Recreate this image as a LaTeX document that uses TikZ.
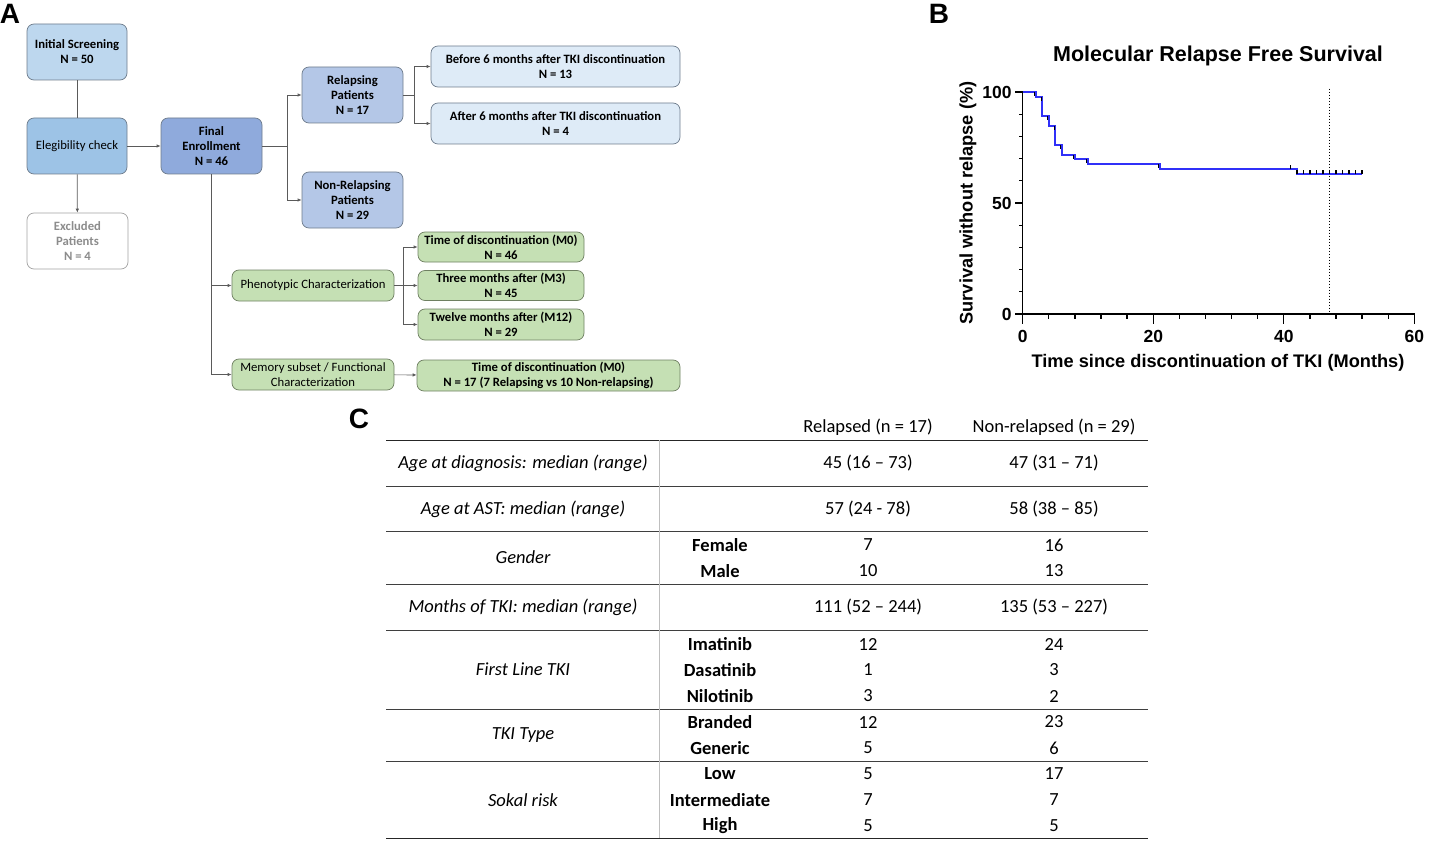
\documentclass[tikz,border=0pt]{standalone}
\usepackage{fontspec}
\setmainfont{Carlito}
\newfontfamily\arialfont{Liberation Sans}
\usetikzlibrary{arrows.meta}

\definecolor{boxline}{HTML}{6E7C8C}
\definecolor{greenline}{HTML}{6F8062}
\definecolor{connline}{HTML}{5A5A5A}
\definecolor{screenblue}{HTML}{BDD7EE}
\definecolor{checkblue}{HTML}{9DC3E6}
\definecolor{finalblue}{HTML}{8FAADC}
\definecolor{groupblue}{HTML}{B4C7E7}
\definecolor{paleblue}{HTML}{DEEBF7}
\definecolor{phenogreen}{HTML}{C5E0B4}
\definecolor{exclgray}{HTML}{8C8C8C}
\definecolor{kmblue}{HTML}{3030F8}
\definecolor{rulegray}{HTML}{3F3F3F}

\begin{document}
\begin{tikzpicture}[x=1pt,y=-1pt,
	flowbox/.style={draw=boxline, line width=0.7pt, rounded corners=7pt, align=center,
		inner sep=0pt, font=\fontsize{12.7}{15}\selectfont\bfseries},
	greenbox/.style={flowbox, draw=greenline, fill=phenogreen},
	conn/.style={draw=connline, line width=0.7pt},
	arr/.style={conn, -{Latex[length=4pt,width=3.5pt]}},
	kmline/.style={kmblue, line width=2pt},
	tick/.style={black, line width=1.3pt},
	tabrule/.style={rulegray, line width=0.9pt},
	cell/.style={inner sep=0pt, font=\fontsize{18.5}{20}\selectfont},
	panel/.style={inner sep=0pt, font=\arialfont\bfseries\fontsize{28}{30}\selectfont}]

	%--- Rahmen ---
	\useasboundingbox (0,0) rectangle (1429,845);

	%--- Panel-Buchstaben ---
	\node[panel] (labA) at (10,14) {A};
	\node[panel] (labB) at (939,14) {B};
	\node[panel] (labC) at (359,419) {C};

	%--- A: Flussdiagramm ---
	\node[flowbox, fill=screenblue, minimum width=100pt, minimum height=56pt] (init) at (77,52) {Initial Screening\\N = 50};
	\node[flowbox, fill=checkblue, minimum width=100pt, minimum height=56pt, font=\fontsize{12.7}{15}\selectfont] (elig) at (77,146) {Elegibility check};
	\node[flowbox, draw=exclgray!80, fill=white, text=exclgray, minimum width=101pt, minimum height=56pt] (excl) at (77.5,241) {Excluded\\Patients\\N = 4};
	\node[flowbox, fill=finalblue, minimum width=101pt, minimum height=56pt] (final) at (211.5,146) {Final\\Enrollment\\N = 46};
	\node[flowbox, fill=groupblue, minimum width=101pt, minimum height=56pt] (relap) at (352.5,95) {Relapsing\\Patients\\N = 17};
	\node[flowbox, fill=groupblue, minimum width=101pt, minimum height=56pt] (nonrel) at (352.5,200) {Non-Relapsing\\Patients\\N = 29};
	\node[flowbox, fill=paleblue, minimum width=249pt, minimum height=41pt] (before) at (555.5,66.5) {Before 6 months after TKI discontinuation\\N = 13};
	\node[flowbox, fill=paleblue, minimum width=249pt, minimum height=41pt] (after) at (555.5,123.5) {After 6 months after TKI discontinuation\\N = 4};

	\node[greenbox, minimum width=162pt, minimum height=31pt, font=\fontsize{12.7}{15}\selectfont] (phen) at (313,285.5) {Phenotypic Characterization};
	\node[greenbox, minimum width=162pt, minimum height=31pt, font=\fontsize{12.7}{15}\selectfont] (mem) at (313,374.5) {Memory subset / Functional\\Characterization};
	\node[greenbox, minimum width=166pt, minimum height=30pt] (mzero) at (501,247) {Time of discontinuation (M0)\\N = 46};
	\node[greenbox, minimum width=166pt, minimum height=30pt] (mthree) at (501,285.5) {Three months after (M3)\\N = 45};
	\node[greenbox, minimum width=166pt, minimum height=31pt] (mtwelve) at (501,324.5) {Twelve months after (M12)\\N = 29};
	\node[greenbox, minimum width=263pt, minimum height=31pt] (mzerob) at (548.5,375.5) {Time of discontinuation (M0)\\N = 17 (7 Relapsing vs 10 Non-relapsing)};

	%--- Verbindungen ---
	\coordinate (fsplit) at (287,146);
	\coordinate (rsplit) at (414,95);
	\coordinate (psplit) at (403,285.5);
	\draw[conn] (init) -- (elig);
	\draw[arr] (elig) -- (excl);
	\draw[arr] (elig) -- (final);
	\draw[conn] (final) -- (fsplit);
	\draw[arr] (fsplit) |- (relap);
	\draw[arr] (fsplit) |- (nonrel);
	\draw[conn] (relap) -- (rsplit);
	\draw[arr] (rsplit) |- (before);
	\draw[arr] (rsplit) |- (after);
	\draw[conn] (final.south) -- (final.south |- mem.west);
	\draw[arr] (final.south |- phen.west) -- (phen);
	\draw[arr] (final.south |- mem.west) -- (mem);
	\draw[conn] (phen) -- (psplit);
	\draw[arr] (psplit) |- (mzero);
	\draw[arr] (psplit) -- (mthree);
	\draw[arr] (psplit) |- (mtwelve);
	\draw[arr] (mem) -- (mzerob);

	%--- B: Kaplan-Meier ---
	\node[font=\arialfont\bfseries\fontsize{21.5}{24}\selectfont] (kmtitle) at (1218,56) {Molecular Relapse Free Survival};
	\node[font=\arialfont\bfseries\fontsize{18.2}{20}\selectfont, rotate=90] (kmylab) at (968,203) {Survival without relapse (\%)};
	\node[font=\arialfont\bfseries\fontsize{18.2}{20}\selectfont] (kmxlab) at (1218,363) {Time since discontinuation of TKI (Months)};

	\begin{scope}[shift={(1022.7,314)}, x=6.527pt, y=2.22pt]
		% Achsen
		\draw[tick, line cap=rect] (0,100) -- (0,0) -- (60,0);
		\foreach \t in {4,8,...,56} {
			\draw[tick] (\t,0) -- ++(0pt,-5pt);
		}
		\foreach \t in {0,20,40,60} {
			\draw[tick] (\t,0) -- ++(0pt,-10pt);
			\node[anchor=north, inner sep=0pt, font=\arialfont\bfseries\fontsize{17.5}{19}\selectfont] (xt\t) at ([yshift=-16pt]\t,0) {\t};
		}
		\foreach \s in {10,20,...,90} {
			\draw[tick] (0,\s) -- ++(-4pt,0pt);
		}
		\foreach \s in {0,50,100} {
			\draw[tick] (0,\s) -- ++(-8pt,0pt);
			\node[anchor=east, inner sep=0pt, font=\arialfont\bfseries\fontsize{17.5}{19}\selectfont] (yt\s) at ([xshift=-11pt]0,\s) {\s};
		}
		% Stichtag
		\draw[black, line width=0.8pt, dash pattern=on 1.5pt off 1.5pt] (47,101.5) -- (47,0);
		% Kurve
		\draw[kmline] (0,100) -| (2,97.8) -| (3,89.1) -| (4,84.8) -| (5,76.1) -| (6,71.7)
			-| (8,69.6) -| (10,67.4) -| (21,65.2) -| (42,63.0) -- (52,63.0);
		\foreach \t/\s in {2/100,3/97.8,4/89.1,5/84.8,6/76.1,8/71.7,10/69.6,21/67.4} {
			\draw[tick, line width=1.1pt] ([xshift=-1.2pt]\t,\s) -- ++(0pt,-4pt);
		}
		% zensiert
		\draw[tick] (41,65.2) -- ++(0pt,4pt);
		\foreach \t in {42,...,52} {
			\draw[tick] (\t,63.0) -- ++(0pt,4pt);
		}
	\end{scope}

	%--- C: Tabelle ---
	\node[cell] (hrel) at (868,427) {Relapsed (n = 17)};
	\node[cell] (hnon) at (1054,427) {Non-relapsed (n = 29)};
	\draw[black!85, line width=1pt] (386,440) -- (1148,440);
	\foreach \y in {486,531,584,630,709,761} {
		\draw[tabrule] (386,\y) -- (1148,\y);
	}
	\draw[black!85, line width=1pt] (386,838) -- (1148,838);
	\draw[black!25, line width=0.6pt] (659,440) -- (659,838);

	\foreach \y/\lab in {463/Age at diagnosis: median (range), 509/Age at AST: median (range),
		557/Gender, 607/Months of TKI: median (range), 669/First Line TKI, 735/TKI Type, 800/Sokal risk} {
		\node[cell, font=\fontsize{18.5}{20}\selectfont\itshape] (row\y) at (523,\y) {\lab};
	}
	\foreach \y/\lab in {545/Female, 571/Male, 644/Imatinib, 670/Dasatinib, 696/Nilotinib,
		722/Branded, 748/Generic, 774/Low, 800/Intermediate, 826/High} {
		\node[cell, font=\fontsize{18.5}{20}\selectfont\bfseries] (sub\y) at (720,\y) {\lab};
	}
	\foreach \y/\a/\b in {463/45 (16 – 73)/47 (31 – 71), 509/57 (24 - 78)/58 (38 – 85),
		545/7/16, 571/10/13, 607/111 (52 – 244)/135 (53 – 227),
		644/12/24, 670/1/3, 696/3/2, 722/12/23, 748/5/6,
		774/5/17, 800/7/7, 826/5/5} {
		\node[cell] (rel\y) at (868,\y) {\a};
		\node[cell] (non\y) at (1054,\y) {\b};
	}

\end{tikzpicture}
\end{document}
